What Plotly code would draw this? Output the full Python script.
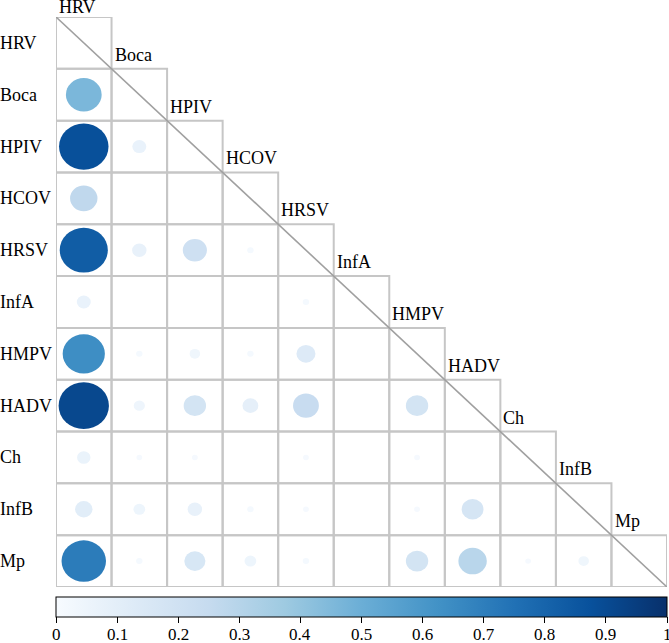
import plotly.graph_objects as go
from plotly.colors import sample_colorscale

variables = ["HRV", "Boca", "HPIV", "HCOV", "HRSV", "InfA", "HMPV", "HADV", "Ch", "InfB", "Mp"]

# lower-triangle correlation values (row variable vs. earlier column variables)
corr_HRV = []
corr_Boca = [0.46]
corr_HPIV = [0.88, 0.07]
corr_HCOV = [0.27, 0.0, 0.0]
corr_HRSV = [0.83, 0.075, 0.21, 0.015]
corr_InfA = [0.07, 0.0, 0.0, 0.0, 0.015]
corr_HMPV = [0.64, 0.015, 0.04, 0.015, 0.13, 0.0]
corr_HADV = [0.91, 0.045, 0.18, 0.09, 0.24, 0.0, 0.18]
corr_Ch = [0.065, 0.012, 0.012, 0.0, 0.012, 0.0, 0.012, 0.0]
corr_InfB = [0.11, 0.05, 0.075, 0.015, 0.012, 0.0, 0.012, 0.17, 0.0]
corr_Mp = [0.71, 0.015, 0.16, 0.05, 0.015, 0.0, 0.18, 0.29, 0.012, 0.04]

rows = [corr_HRV, corr_Boca, corr_HPIV, corr_HCOV, corr_HRSV, corr_InfA,
        corr_HMPV, corr_HADV, corr_Ch, corr_InfB, corr_Mp]

colorbar_ticks = [0, 0.1, 0.2, 0.3, 0.4, 0.5, 0.6, 0.7, 0.8, 0.9, 1]
colorbar_ticktext = ["0", "0.1", "0.2", "0.3", "0.4", "0.5", "0.6", "0.7", "0.8", "0.9", "1"]

blues = ['rgb(247,251,255)', 'rgb(222,235,247)', 'rgb(198,219,239)', 'rgb(158,202,225)',
         'rgb(107,174,214)', 'rgb(66,146,198)', 'rgb(33,113,181)', 'rgb(8,81,156)', 'rgb(8,48,107)']
cscale = [[k / 8, c] for k, c in enumerate(blues)]

FONT = "Liberation Serif, Times New Roman, serif"
n = len(variables)
W, H = 669, 643
ML, MR, MT, MB = 56, 2, 17, 56
PW = W - ML - MR
PH = H - MT - MB
shapes = []
annotations = []

GRID = "rgb(198,198,198)"
# grid cells (lower triangle incl. diagonal)
for i in range(n):
    for j in range(i + 1):
        shapes.append(dict(type="rect", xref="x", yref="y", x0=j, x1=j + 1, y0=i, y1=i + 1,
                           line=dict(color=GRID, width=2), fillcolor="rgba(0,0,0,0)", layer="above"))

# circles
for i, vals in enumerate(rows):
    for j, v in enumerate(vals):
        if v <= 0:
            continue
        rad = 0.475 * abs(v) ** 0.5
        col = sample_colorscale(cscale, [v])[0]
        shapes.append(dict(type="circle", xref="x", yref="y",
                           x0=j + 0.5 - rad, x1=j + 0.5 + rad,
                           y0=i + 0.5 - rad, y1=i + 0.5 + rad,
                           fillcolor=col, line=dict(width=0), layer="above"))

# diagonal line
shapes.append(dict(type="line", xref="x", yref="y", x0=0, y0=0, x1=n, y1=n,
                   line=dict(color="rgb(160,160,160)", width=1.6), layer="above"))

def py(yv):
    # data y (reversed axis, 0 at top) -> paper y
    return (n - yv) / n

# row labels
for i, name in enumerate(variables):
    annotations.append(dict(x=-(ML + 2) / PW, y=py(i + 0.5), xref="paper", yref="paper", text=name,
                            showarrow=False, xanchor="left", yanchor="middle",
                            font=dict(family=FONT, size=18, color="black")))
# column labels
for j, name in enumerate(variables):
    yy = max(j - 0.27, -0.2)
    annotations.append(dict(x=(j + 0.02) / n, y=py(yy), xref="paper", yref="paper", text=name,
                            showarrow=False, xanchor="left", yanchor="middle",
                            font=dict(family=FONT, size=18, color="black")))

# colorbar tick labels (placed as text under the bar)
for tv, tt in zip(colorbar_ticks, colorbar_ticktext):
    annotations.append(dict(x=tv, y=-(634 - (H - MB)) / PH, xref="paper", yref="paper", text=tt,
                            showarrow=False, xanchor="center", yanchor="middle",
                            font=dict(family=FONT, size=17, color="black")))

fig = go.Figure()
fig.add_trace(go.Scatter(
    x=[-5, -5], y=[-5, -5], mode="markers", hoverinfo="skip", showlegend=False,
    marker=dict(size=0.1, color=[0, 1], cmin=0, cmax=1, colorscale=cscale, showscale=True,
                colorbar=dict(orientation="h", x=0.5, xanchor="center", y=-10 / PH, yanchor="top",
                              len=1, lenmode="fraction", thickness=20, thicknessmode="pixels",
                              xpad=0, ypad=0, outlinewidth=1, outlinecolor="black",
                              ticks="outside", ticklen=6, tickwidth=1, tickcolor="black",
                              showticklabels=False,
                              tickvals=colorbar_ticks))
))

fig.update_layout(
    width=W, height=H, autosize=False,
    margin=dict(l=ML, r=MR, t=MT, b=MB, autoexpand=False),
    paper_bgcolor="white", plot_bgcolor="white",
    xaxis=dict(range=[0, n], visible=False, fixedrange=True),
    yaxis=dict(range=[n, 0], visible=False, fixedrange=True),
    shapes=shapes, annotations=annotations,
    showlegend=False,
)

fig.write_html("out.html", config={"responsive": False, "displayModeBar": False},
               post_script="document.body.style.margin='0px';document.body.style.overflow='hidden';")
